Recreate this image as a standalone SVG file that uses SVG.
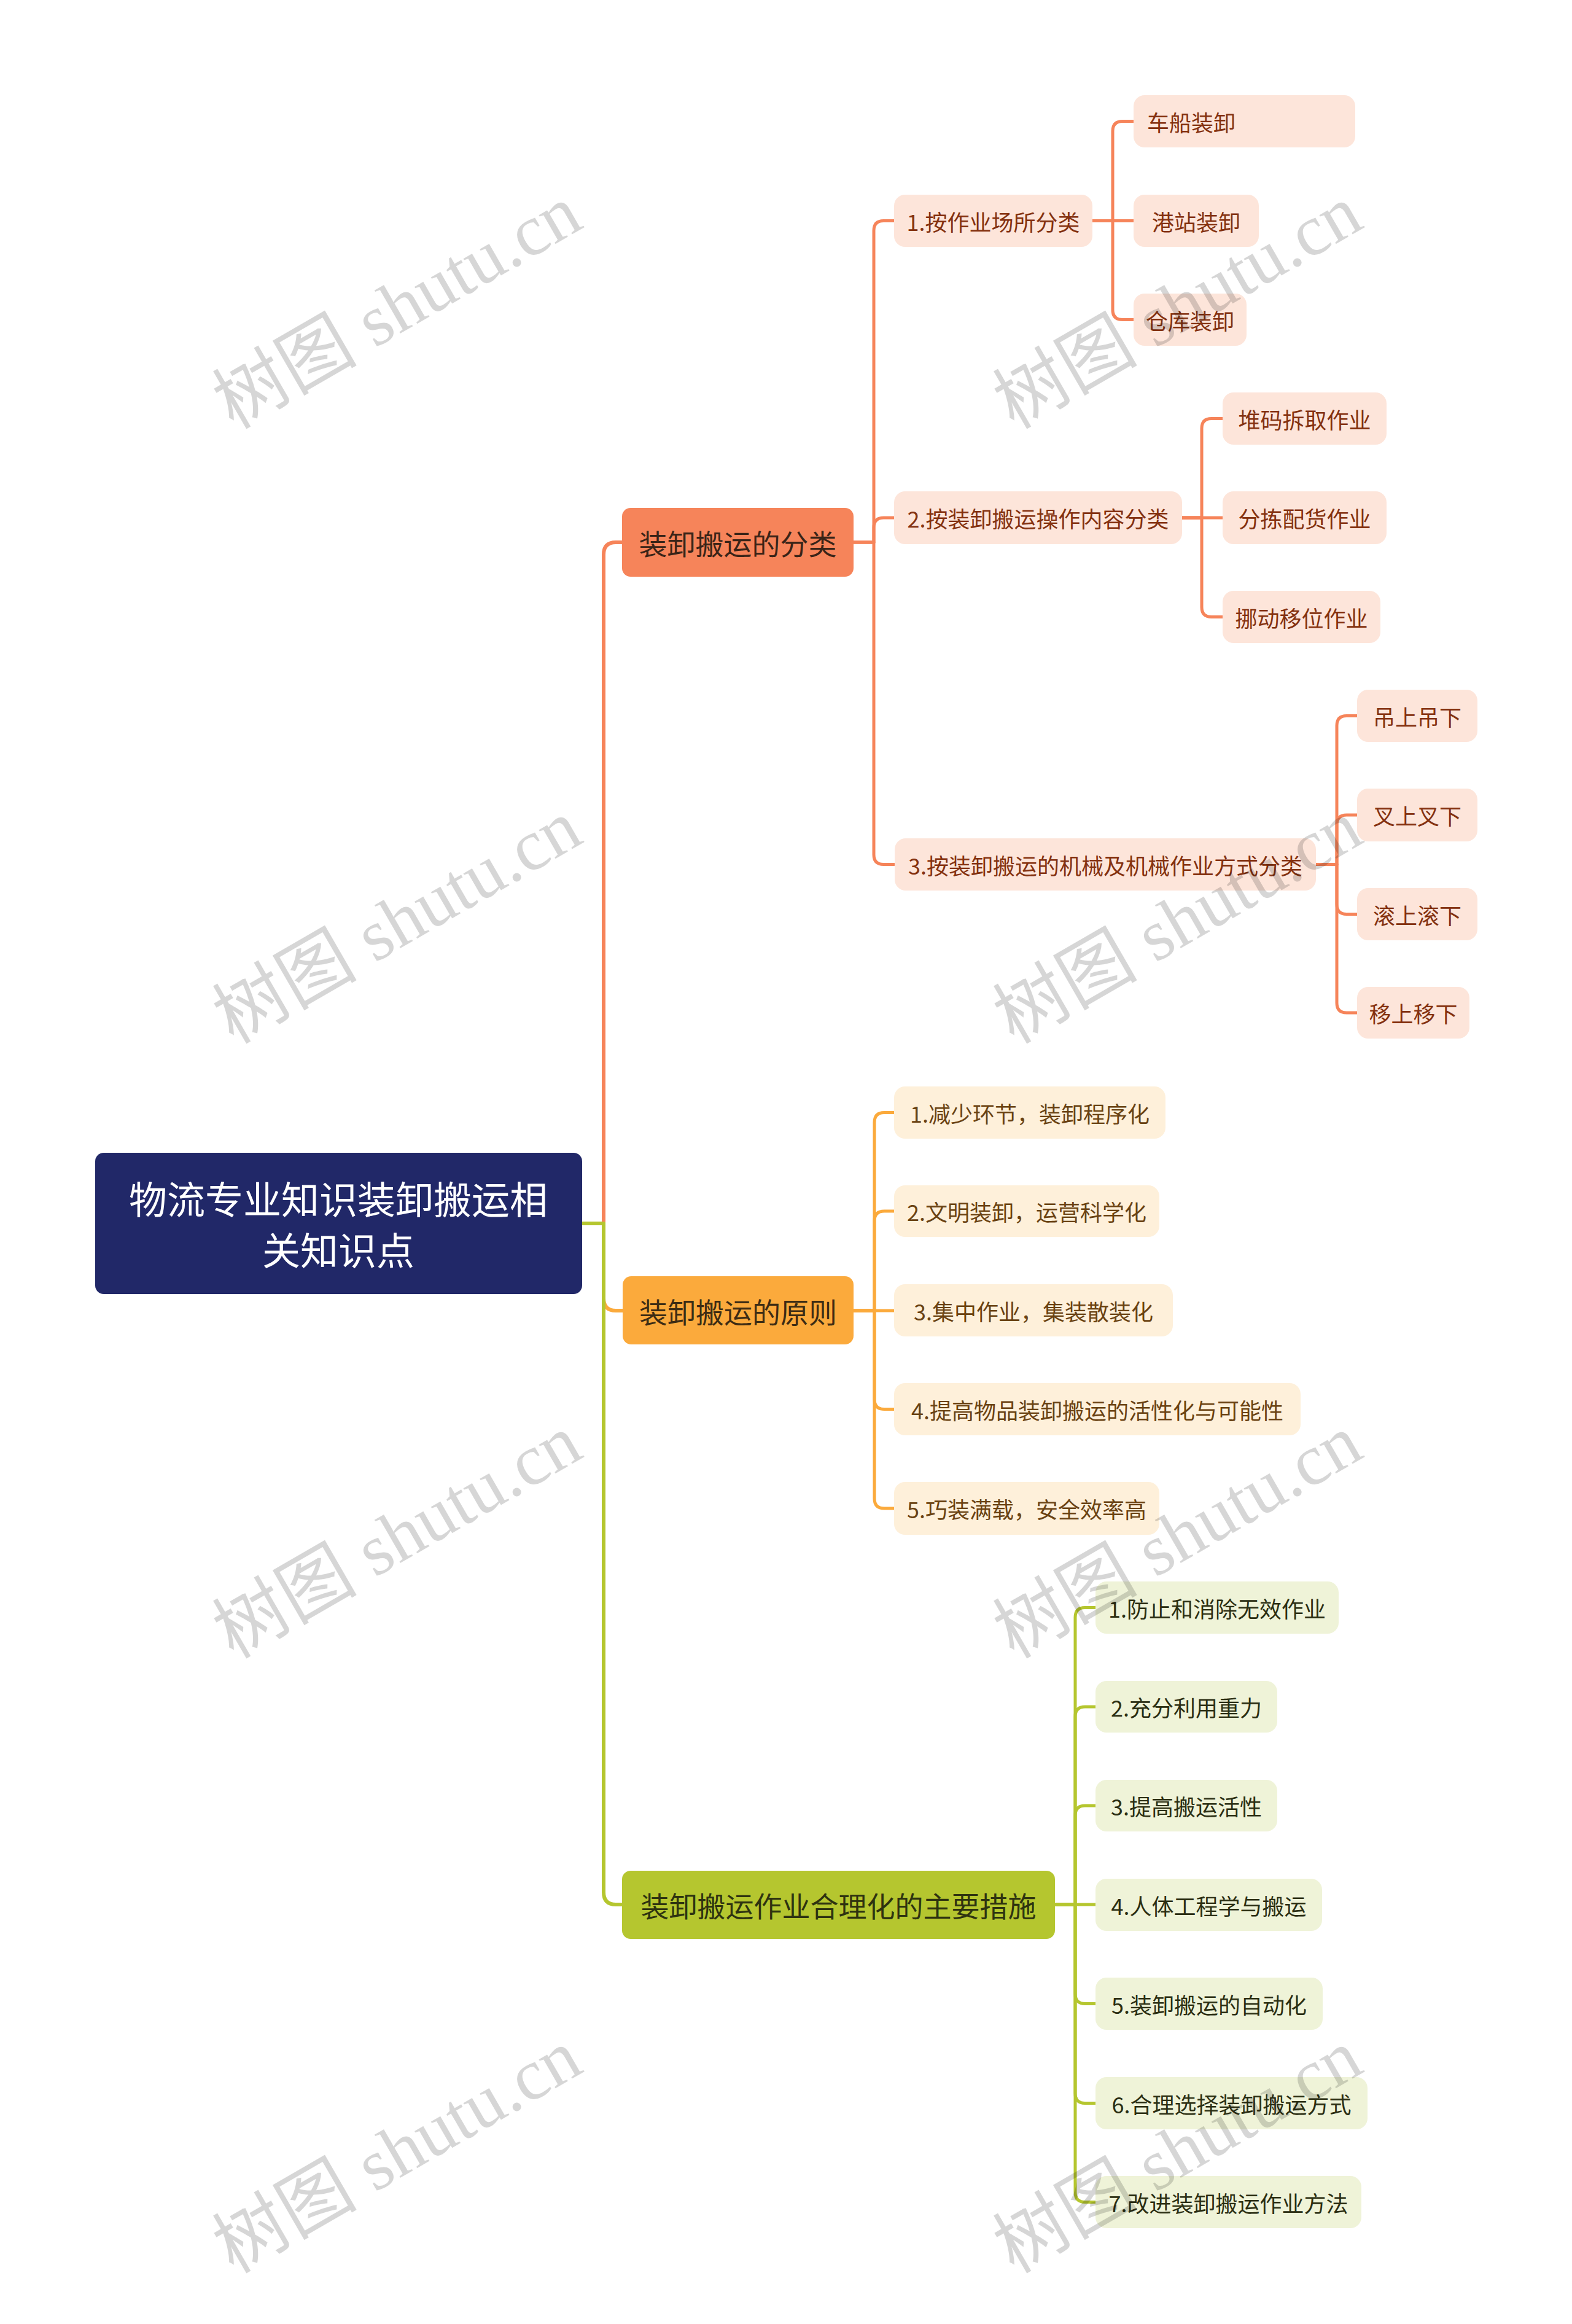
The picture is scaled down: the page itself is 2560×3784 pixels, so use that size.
<svg xmlns="http://www.w3.org/2000/svg" width="2560" height="3784" viewBox="0 0 2560 3784">
<style>
text{font-family:"Noto Sans CJK SC","Liberation Sans",sans-serif;dominant-baseline:central;text-anchor:middle}
.c{fill:none;stroke-linecap:round;stroke-linejoin:round}
.o{stroke:#F6845A}.y{stroke:#FBAA3C}.g{stroke:#B5C62F}
.w1{stroke-width:6}.w2{stroke-width:5}
.root text{fill:#fff;font-size:62px}
.l1 text{font-size:46px}
.nA rect{fill:#FDE5DA}.nA text{fill:#84310F;font-size:36px}
.nB rect{fill:#FEF0DA}.nB text{fill:#6A4212;font-size:36px}
.nC rect{fill:#EFF3D8}.nC text{fill:#2B2E12;font-size:36px}
.wm{font-family:"Liberation Serif","Noto Sans CJK SC",serif;font-size:118px;fill:#000;fill-opacity:0.16;text-anchor:start;dominant-baseline:alphabetic}
</style>
<rect width="2560" height="3784" fill="#fff"/>
<g id="connectors">
<path class="c o w1" d="M948,1992 H983 V903 Q983,883 1003,883 H1013"/>
<path class="c y w1" d="M948,1992 H983 V2114 Q983,2134 1003,2134 H1014"/>
<path class="c g w1" d="M948,1992 H983 V3081 Q983,3101 1003,3101 H1013"/>
<path class="c o w2" d="M1390,883 H1423 V375.5 Q1423,359.5 1439,359.5 H1456"/>
<path class="c o w2" d="M1390,883 H1423 V859 Q1423,843 1439,843 H1456"/>
<path class="c o w2" d="M1390,883 H1423 V1391.5 Q1423,1407.5 1439,1407.5 H1456"/>
<path class="c o w2" d="M1779,359.5 H1812 V213.5 Q1812,197.5 1828,197.5 H1846"/>
<path class="c o w2" d="M1779,359.5 H1846"/>
<path class="c o w2" d="M1779,359.5 H1812 V504.5 Q1812,520.5 1828,520.5 H1846"/>
<path class="c o w2" d="M1925,843 H1957 V697.5 Q1957,681.5 1973,681.5 H1991"/>
<path class="c o w2" d="M1925,843 H1991"/>
<path class="c o w2" d="M1925,843 H1957 V988.5 Q1957,1004.5 1973,1004.5 H1991"/>
<path class="c o w2" d="M2143,1407.5 H2177 V1181.5 Q2177,1165.5 2193,1165.5 H2210"/>
<path class="c o w2" d="M2143,1407.5 H2177 V1343 Q2177,1327 2193,1327 H2210"/>
<path class="c o w2" d="M2143,1407.5 H2177 V1472.5 Q2177,1488.5 2193,1488.5 H2210"/>
<path class="c o w2" d="M2143,1407.5 H2177 V1633 Q2177,1649 2193,1649 H2210"/>
<path class="c y w2" d="M1390,2134 H1424 V1827.5 Q1424,1811.5 1440,1811.5 H1456"/>
<path class="c y w2" d="M1390,2134 H1424 V1988 Q1424,1972 1440,1972 H1456"/>
<path class="c y w2" d="M1390,2134 H1456"/>
<path class="c y w2" d="M1390,2134 H1424 V2278.5 Q1424,2294.5 1440,2294.5 H1456"/>
<path class="c y w2" d="M1390,2134 H1424 V2440 Q1424,2456 1440,2456 H1456"/>
<path class="c g w2" d="M1718,3101 H1751 V2633.5 Q1751,2617.5 1767,2617.5 H1784"/>
<path class="c g w2" d="M1718,3101 H1751 V2795 Q1751,2779 1767,2779 H1784"/>
<path class="c g w2" d="M1718,3101 H1751 V2956 Q1751,2940 1767,2940 H1784"/>
<path class="c g w2" d="M1718,3101 H1784"/>
<path class="c g w2" d="M1718,3101 H1751 V3246.5 Q1751,3262.5 1767,3262.5 H1784"/>
<path class="c g w2" d="M1718,3101 H1751 V3408.5 Q1751,3424.5 1767,3424.5 H1784"/>
<path class="c g w2" d="M1718,3101 H1751 V3569.5 Q1751,3585.5 1767,3585.5 H1784"/>
</g>
<g id="root" class="root"><rect x="155" y="1877" width="793" height="230" rx="14" fill="#212868"/><text x="551" y="1950">物流专业知识装卸搬运相</text><text x="551" y="2033">关知识点</text></g>
<g id="n-A" class="l1"><rect x="1013" y="827" width="377" height="112" rx="14" fill="#F6845A"/><text x="1201.5" y="883" fill="#3A2418">装卸搬运的分类</text></g>
<g id="n-B" class="l1"><rect x="1014" y="2078" width="376" height="111" rx="14" fill="#FBAA3C"/><text x="1202" y="2134" fill="#3D2C14">装卸搬运的原则</text></g>
<g id="n-C" class="l1"><rect x="1013" y="3046" width="705" height="111" rx="14" fill="#B5C62F"/><text x="1365.5" y="3101" fill="#2E3310">装卸搬运作业合理化的主要措施</text></g>
<g id="n-A1" class="nA"><rect x="1456" y="317" width="323" height="85" rx="18"/><text x="1617.5" y="359.5">1.按作业场所分类</text></g>
<g id="n-A1a" class="nA"><rect x="1846" y="155" width="361" height="85" rx="18"/><text x="1868" y="197.5" style="text-anchor:start">车船装卸</text></g>
<g id="n-A1b" class="nA"><rect x="1846" y="317" width="204" height="85" rx="18"/><text x="1948" y="359.5">港站装卸</text></g>
<g id="n-A1c" class="nA"><rect x="1846" y="478" width="184" height="85" rx="18"/><text x="1938" y="520.5">仓库装卸</text></g>
<g id="n-A2" class="nA"><rect x="1456" y="800" width="469" height="86" rx="18"/><text x="1690.5" y="843">2.按装卸搬运操作内容分类</text></g>
<g id="n-A2a" class="nA"><rect x="1991" y="639" width="267" height="85" rx="18"/><text x="2124.5" y="681.5">堆码拆取作业</text></g>
<g id="n-A2b" class="nA"><rect x="1991" y="800" width="267" height="86" rx="18"/><text x="2124.5" y="843">分拣配货作业</text></g>
<g id="n-A2c" class="nA"><rect x="1991" y="962" width="257" height="85" rx="18"/><text x="2119.5" y="1004.5">挪动移位作业</text></g>
<g id="n-A3" class="nA"><rect x="1457" y="1365" width="686" height="85" rx="18"/><text x="1800" y="1407.5">3.按装卸搬运的机械及机械作业方式分类</text></g>
<g id="n-A3a" class="nA"><rect x="2210" y="1123" width="196" height="85" rx="18"/><text x="2308" y="1165.5">吊上吊下</text></g>
<g id="n-A3b" class="nA"><rect x="2210" y="1284" width="196" height="86" rx="18"/><text x="2308" y="1327">叉上叉下</text></g>
<g id="n-A3c" class="nA"><rect x="2210" y="1446" width="196" height="85" rx="18"/><text x="2308" y="1488.5">滚上滚下</text></g>
<g id="n-A3d" class="nA"><rect x="2210" y="1607" width="183" height="84" rx="18"/><text x="2301.5" y="1649">移上移下</text></g>
<g id="n-B1" class="nB"><rect x="1456" y="1769" width="442" height="85" rx="18"/><text x="1677" y="1811.5">1.减少环节，装卸程序化</text></g>
<g id="n-B2" class="nB"><rect x="1456" y="1930" width="432" height="84" rx="18"/><text x="1672" y="1972">2.文明装卸，运营科学化</text></g>
<g id="n-B3" class="nB"><rect x="1456" y="2091" width="454" height="85" rx="18"/><text x="1683" y="2133.5">3.集中作业，集装散装化</text></g>
<g id="n-B4" class="nB"><rect x="1456" y="2252" width="662" height="85" rx="18"/><text x="1787" y="2294.5">4.提高物品装卸搬运的活性化与可能性</text></g>
<g id="n-B5" class="nB"><rect x="1456" y="2413" width="432" height="86" rx="18"/><text x="1672" y="2456">5.巧装满载，安全效率高</text></g>
<g id="n-C1" class="nC"><rect x="1784" y="2575" width="396" height="85" rx="18"/><text x="1982" y="2617.5">1.防止和消除无效作业</text></g>
<g id="n-C2" class="nC"><rect x="1784" y="2737" width="296" height="84" rx="18"/><text x="1932" y="2779">2.充分利用重力</text></g>
<g id="n-C3" class="nC"><rect x="1784" y="2898" width="296" height="84" rx="18"/><text x="1932" y="2940">3.提高搬运活性</text></g>
<g id="n-C4" class="nC"><rect x="1784" y="3059" width="369" height="85" rx="18"/><text x="1968.5" y="3101.5">4.人体工程学与搬运</text></g>
<g id="n-C5" class="nC"><rect x="1784" y="3220" width="370" height="85" rx="18"/><text x="1969" y="3262.5">5.装卸搬运的自动化</text></g>
<g id="n-C6" class="nC"><rect x="1784" y="3382" width="443" height="85" rx="18"/><text x="2005.5" y="3424.5">6.合理选择装卸搬运方式</text></g>
<g id="n-C7" class="nC"><rect x="1784" y="3543" width="433" height="85" rx="18"/><text x="2000.5" y="3585.5">7.改进装卸搬运作业方法</text></g>
<g id="watermarks">
<text class="wm" x="380" y="700" transform="rotate(-30 380 700)">树图 shutu.cn</text>
<text class="wm" x="1651" y="700" transform="rotate(-30 1651 700)">树图 shutu.cn</text>
<text class="wm" x="380" y="1701" transform="rotate(-30 380 1701)">树图 shutu.cn</text>
<text class="wm" x="1651" y="1701" transform="rotate(-30 1651 1701)">树图 shutu.cn</text>
<text class="wm" x="380" y="2702" transform="rotate(-30 380 2702)">树图 shutu.cn</text>
<text class="wm" x="1651" y="2702" transform="rotate(-30 1651 2702)">树图 shutu.cn</text>
<text class="wm" x="380" y="3703" transform="rotate(-30 380 3703)">树图 shutu.cn</text>
<text class="wm" x="1651" y="3703" transform="rotate(-30 1651 3703)">树图 shutu.cn</text>
</g>
</svg>
